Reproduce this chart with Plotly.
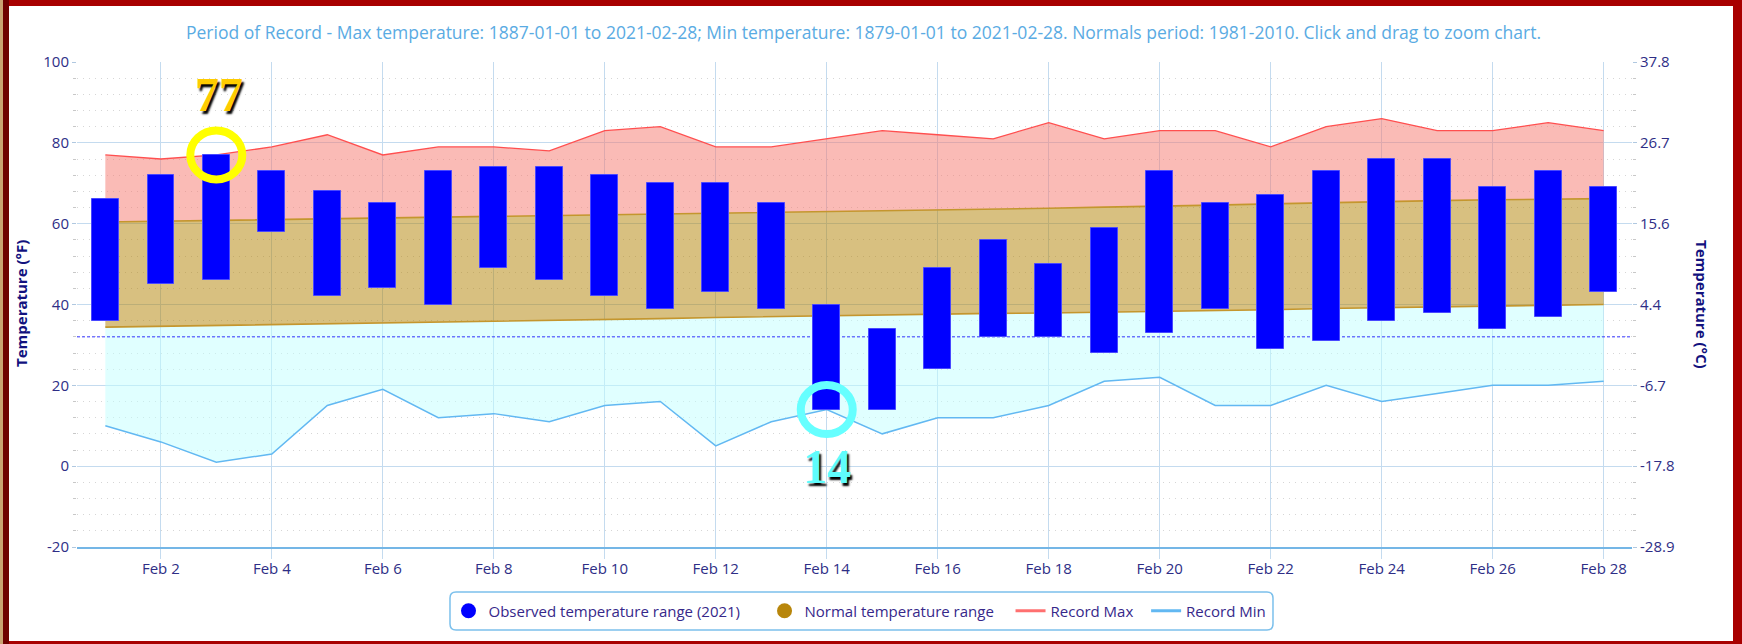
import pandas as pd
import plotly.graph_objects as go

# ---------------- data ----------------
dates = list(pd.date_range("2021-02-01", "2021-02-28", freq="D").strftime("%Y-%m-%d"))

obs_high = [66, 72, 77, 73, 68, 65, 73, 74, 74, 72, 70, 70, 65, 40, 34, 49, 56, 50, 59, 73, 65, 67, 73, 76, 76, 69, 73, 69]
obs_low = [36, 45, 46, 58, 42, 44, 40, 49, 46, 42, 39, 43, 39, 14, 14, 24, 32, 32, 28, 33, 39, 29, 31, 36, 38, 34, 37, 43]

record_max = [77, 76, 77, 79, 82, 77, 79, 79, 78, 83, 84, 79, 79, 81, 83, 82, 81, 85, 81, 83, 83, 79, 84, 86, 83, 83, 85, 83]
record_min = [10, 6, 1, 3, 15, 19, 12, 13, 11, 15, 16, 5, 11, 14, 8, 12, 12, 15, 21, 22, 15, 15, 20, 16, 18, 20, 20, 21]

normal_high = [60.4, 60.6, 60.8, 61.0, 61.2, 61.4, 61.6, 61.7, 61.9, 62.1, 62.3, 62.5, 62.7, 62.9,
               63.1, 63.3, 63.6, 63.8, 64.1, 64.3, 64.6, 64.9, 65.2, 65.5, 65.7, 65.9, 66.1, 66.2]
normal_low = [34.4, 34.6, 34.8, 35.0, 35.2, 35.4, 35.6, 35.8, 36.0, 36.3, 36.5, 36.8, 37.0, 37.3,
              37.4, 37.6, 37.8, 37.9, 38.1, 38.2, 38.5, 38.7, 39.0, 39.2, 39.4, 39.6, 39.8, 40.0]

f_tickvals = [-20, 0, 20, 40, 60, 80, 100]
f_ticktext = ["-20", "0", "20", "40", "60", "80", "100"]
c_ticktext = ["-28.9", "-17.8", "-6.7", "4.4", "15.6", "26.7", "37.8"]

freezing_f = 32
highlight_max = ("2021-02-03", 77, "77")
highlight_min = ("2021-02-14", 14, "14")

title_text = ("Period of Record - Max temperature: 1887-01-01 to 2021-02-28; Min temperature: "
              "1879-01-01 to 2021-02-28. Normals period: 1981-2010. Click and drag to zoom chart.")

legend_names = ["Observed temperature range (2021)", "Normal temperature range", "Record Max", "Record Min"]

# ---------------- geometry / style ----------------
W, H = 1742, 644
ML, MR, MT, MB = 77, 110, 62, 97
PW, PH = W - ML - MR, H - MT - MB


def xp(px):
    return (px - ML) / PW


def yp(py):
    return (H - MB - py) / PH


def f_to_c(f):
    return (f - 32) * 5.0 / 9.0


def rounded_rect_path(x0, y0, x1, y1, r):
    pts = [
        ("M", x0 + r, y0), ("L", x1 - r, y0), ("Q", x1, y0, x1, y0 + r), ("L", x1, y1 - r),
        ("Q", x1, y1, x1 - r, y1), ("L", x0 + r, y1), ("Q", x0, y1, x0, y1 - r), ("L", x0, y0 + r),
        ("Q", x0, y0, x0 + r, y0),
    ]
    out = []
    for p in pts:
        cmd, coords = p[0], p[1:]
        conv = []
        for i in range(0, len(coords), 2):
            conv.append(f"{xp(coords[i]):.5f},{yp(coords[i + 1]):.5f}")
        out.append(cmd + " ".join(conv))
    return " ".join(out) + " Z"


# extra spacing after legend entries (non-breaking spaces), to mimic the wider item gaps
NB = "\u00a0"
legend_pad = [5, 3, 2, 0]

x_range = ["2021-01-31 11:45", "2021-02-28 12:15"]
DAY_MS = 86400000

FONT = "Open Sans"
TICK_COLOR = "#2e2e86"
GRID = "#c4dbef"
BLUE = "#0000ff"
PINK = "rgba(246,120,110,0.5)"
TAN = "rgba(178,130,2,0.5)"
CYAN = "rgba(193,255,255,0.5)"
GOLD_LINE = "#c4962e"
RED_LINE = "#ff4f4f"
MIN_LINE = "#62b8f2"

fig = go.Figure()

# fills: record min -> normal low (cyan), normal low -> normal high (tan), normal high -> record max (pink)
fig.add_trace(go.Scatter(x=dates, y=record_min, mode="lines", line=dict(color=MIN_LINE, width=1.5),
                         showlegend=False, hoverinfo="skip"))
fig.add_trace(go.Scatter(x=dates, y=normal_low, mode="lines", line=dict(color=GOLD_LINE, width=1.6),
                         fill="tonexty", fillcolor=CYAN, showlegend=False, hoverinfo="skip"))
fig.add_trace(go.Scatter(x=dates, y=normal_high, mode="lines", line=dict(color=GOLD_LINE, width=1.6),
                         fill="tonexty", fillcolor=TAN, showlegend=False, hoverinfo="skip"))
fig.add_trace(go.Scatter(x=dates, y=record_max, mode="lines", line=dict(color=RED_LINE, width=1.3),
                         fill="tonexty", fillcolor=PINK, showlegend=False, hoverinfo="skip"))
# freezing reference line (below the bars)
fig.add_trace(go.Scatter(x=x_range, y=[freezing_f, freezing_f], mode="lines",
                         line=dict(color="#3434ff", width=1, dash="3px,2px"),
                         showlegend=False, hoverinfo="skip"))

# observed range bars on an overlaid axis so they sit above the fills
fig.add_trace(go.Bar(x=dates, y=[h - l for h, l in zip(obs_high, obs_low)], base=obs_low,
                     width=0.48 * DAY_MS, marker=dict(color=BLUE, line=dict(color="#4848ff", width=1)),
                     yaxis="y3", showlegend=False))

# legend entries
fig.add_trace(go.Scatter(x=[None], y=[None], mode="markers", name=legend_names[0] + NB * legend_pad[0],
                         marker=dict(color=BLUE, size=15, symbol="circle")))
fig.add_trace(go.Scatter(x=[None], y=[None], mode="markers", name=legend_names[1] + NB * legend_pad[1],
                         marker=dict(color="#b8860b", size=15, symbol="circle")))
fig.add_trace(go.Scatter(x=[None], y=[None], mode="lines", name=legend_names[2] + NB * legend_pad[2],
                         line=dict(color="#ff7070", width=3)))
fig.add_trace(go.Scatter(x=[None], y=[None], mode="lines", name=legend_names[3] + NB * legend_pad[3],
                         line=dict(color=MIN_LINE, width=3)))

shapes = [
    # frame
    dict(type="rect", xref="paper", yref="paper", x0=xp(0), x1=xp(3), y0=yp(H), y1=yp(0),
         fillcolor="#c9a272", line=dict(width=0), layer="below"),
    dict(type="rect", xref="paper", yref="paper", x0=xp(3), x1=xp(9), y0=yp(H), y1=yp(0),
         fillcolor="#6e0000", line=dict(width=0), layer="below"),
    dict(type="rect", xref="paper", yref="paper", x0=xp(9), x1=xp(1733), y0=yp(641), y1=yp(6),
         fillcolor="white", line=dict(width=0), layer="below"),
    # legend box with rounded corners
    dict(type="path", xref="paper", yref="paper", path=rounded_rect_path(450, 592, 1273, 630, 6),
         line=dict(color="#7cc0ec", width=1.5), fillcolor="rgba(0,0,0,0)", layer="below"),
    # highlight rings
    dict(type="circle", xref="x", yref="y", xsizemode="pixel", ysizemode="pixel",
         xanchor=highlight_max[0], yanchor=highlight_max[1], x0=-26, x1=26, y0=-24.5, y1=24.5,
         line=dict(color="#ffff00", width=8), layer="above"),
    dict(type="circle", xref="x", yref="y", xsizemode="pixel", ysizemode="pixel",
         xanchor=highlight_min[0], yanchor=highlight_min[1], x0=-26, x1=26, y0=-24.5, y1=24.5,
         line=dict(color="#66ffff", width=8), layer="above"),
]

annotations = [
    dict(text=title_text, xref="paper", yref="paper", x=xp(863), y=yp(32), showarrow=False,
         xanchor="center", yanchor="middle", font=dict(family=FONT, size=17.5, color="#5aabe3")),
    dict(text="Temperature (°F)", xref="paper", yref="paper", x=xp(21), y=yp(304), showarrow=False,
         textangle=-90, xanchor="center", yanchor="middle",
         font=dict(family=FONT, size=15, color="#12127e", weight="bold")),
    dict(text="Temperature (°C)", xref="paper", yref="paper", x=xp(1702), y=yp(304), showarrow=False,
         textangle=90, xanchor="center", yanchor="middle",
         font=dict(family=FONT, size=15, color="#12127e", weight="bold")),
    dict(text=highlight_max[2], xref="x", yref="paper", x=highlight_max[0], y=yp(94), xshift=3,
         showarrow=False, xanchor="center", yanchor="middle",
         font=dict(family="Liberation Serif", size=48, color="#ffcc00", weight="bold",
                   shadow="2px 3px 2px #000000")),
    dict(text=highlight_min[2], xref="x", yref="paper", x=highlight_min[0], y=yp(466),
         showarrow=False, xanchor="center", yanchor="middle",
         font=dict(family="Liberation Serif", size=48, color="#5ffcfc", weight="bold",
                   shadow="2px 3px 2px #000000")),
]

fig.update_layout(
    width=W, height=H,
    margin=dict(l=ML, r=MR, t=MT, b=MB, autoexpand=False),
    paper_bgcolor="#a80000", plot_bgcolor="white",
    font=dict(family=FONT, size=15, color=TICK_COLOR),
    bargap=0,
    shapes=shapes, annotations=annotations,
    xaxis=dict(type="date", range=x_range, tick0="2021-02-02", dtick=2 * DAY_MS, tickformat="%b %-d",
               showgrid=True, gridcolor=GRID, gridwidth=1, ticks="outside", ticklen=10, tickcolor=GRID,
               ticklabelstandoff=-3,
               showline=True, linecolor="#74b6e6", linewidth=1.5, zeroline=False,
               tickfont=dict(family=FONT, size=15, color=TICK_COLOR)),
    yaxis=dict(range=[-20, 100], tickvals=f_tickvals, ticktext=f_ticktext, showgrid=True, gridcolor=GRID,
               zeroline=False, ticks="outside", ticklen=4, tickcolor="#b0c8e0", ticklabelstandoff=0,
               tickfont=dict(family=FONT, size=15, color=TICK_COLOR),
               minor=dict(tick0=0, dtick=4, showgrid=True, gridcolor="#d6d6d6", griddash="1px,5px",
                          ticks="outside", ticklen=3, tickcolor="#c8c8c8")),
    yaxis2=dict(overlaying="y", side="right", range=[f_to_c(-20), f_to_c(100)],
                tickvals=[f_to_c(v) for v in f_tickvals], ticktext=c_ticktext, showgrid=False,
                zeroline=False, ticks="outside", ticklen=4, tickcolor="#b0c8e0", ticklabelstandoff=0,
                tickfont=dict(family=FONT, size=15, color=TICK_COLOR),
                minor=dict(tick0=f_to_c(-20), dtick=4 * 5.0 / 9.0, ticks="outside", ticklen=3,
                           tickcolor="#c8c8c8")),
    yaxis3=dict(overlaying="y", range=[-20, 100], visible=False),
    legend=dict(orientation="h", x=xp(860), y=yp(611), xanchor="center", yanchor="middle",
                bgcolor="rgba(0,0,0,0)", borderwidth=0, itemwidth=30,
                font=dict(family=FONT, size=15, color="#36288a"), traceorder="normal"),
)

# dummy trace on y2 so the right axis renders
fig.add_trace(go.Scatter(x=[None], y=[None], yaxis="y2", showlegend=False, hoverinfo="skip"))

fig.write_html("out.html", config={"displayModeBar": False},
               post_script="document.body.style.margin='0px';document.body.style.overflow='hidden';")
